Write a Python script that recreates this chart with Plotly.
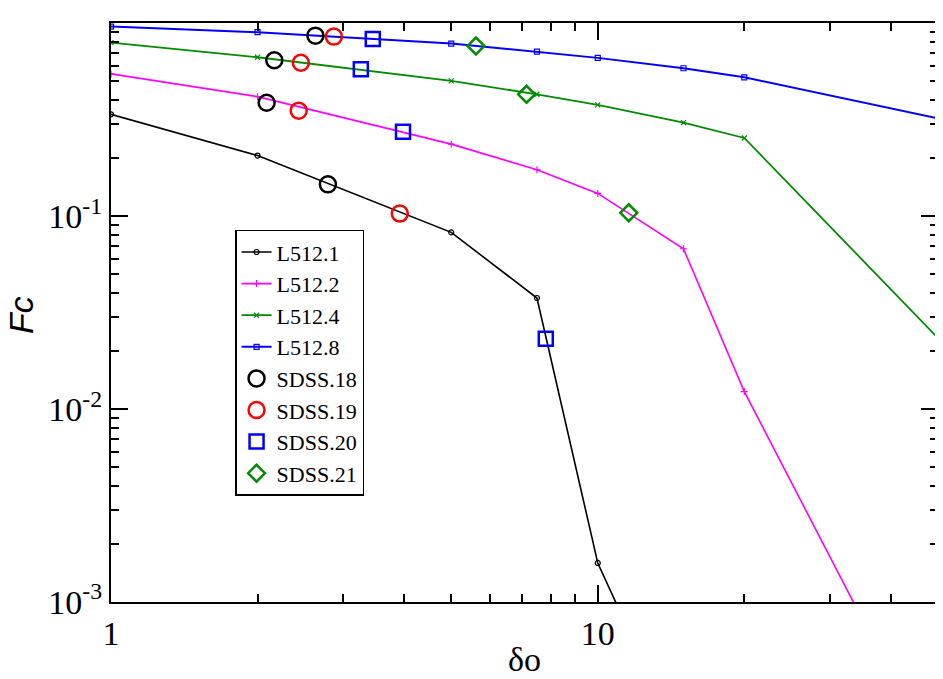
import numpy as np
import plotly.graph_objects as go

# model curves (delta_o grid shared by all four runs)
delta = [1, 2, 5, 7.5, 10, 15, 20, 50]
fc_l512_1 = [0.337, 0.206, 0.0823, 0.0376, 0.00159, 0.00017, None, None]
fc_l512_2 = [0.546, 0.416, 0.236, 0.174, 0.131, 0.0677, 0.0123, 0.000142]
fc_l512_4 = [0.793, 0.666, 0.502, 0.428, 0.377, 0.305, 0.254, 0.0233]
fc_l512_8 = [0.96, 0.898, 0.784, 0.712, 0.661, 0.584, 0.524, 0.321]

# SDSS samples
sdss18_x = [2.63, 2.165, 2.088, 2.79]
sdss18_y = [0.862, 0.643, 0.387, 0.146]
sdss19_x = [2.87, 2.455, 2.43, 3.92]
sdss19_y = [0.852, 0.624, 0.352, 0.103]
sdss20_x = [3.45, 3.26, 3.98, 7.82]
sdss20_y = [0.829, 0.577, 0.274, 0.0231]
sdss21_x = [5.62, 7.14, 11.58]
sdss21_y = [0.762, 0.428, 0.104]

# tick labels
x_tickvals = [1, 10]
x_ticktext = ["1", "10"]
y_tickvals = [1, 0.1, 0.01, 0.001]
y_ticktext = ["10<sup>0</sup>", "10<sup>-1</sup>", "10<sup>-2</sup>", "10<sup>-3</sup>"]

XRANGE = [0, np.log10(50)]
YRANGE = [-3.001, 0.001]

GREEN = "#008B00"
SERIF = "Liberation Serif"

fig = go.Figure()

lines = [
    ("L512.1", fc_l512_1, "black", "circle-open", 1.6),
    ("L512.2", fc_l512_2, "#FF00FF", "cross-thin-open", 1.6),
    ("L512.4", fc_l512_4, GREEN, "x-thin-open", 1.8),
    ("L512.8", fc_l512_8, "#0000FF", "square-open", 2.0),
]
for name, ys, col, sym, lw in lines:
    fig.add_trace(go.Scatter(
        x=delta, y=ys, name=name, mode="lines+markers",
        line=dict(color=col, width=lw),
        marker=dict(symbol=sym, size=5, color=col, line=dict(color=col, width=1.2)),
    ))

# the SDSS points sit on a twin pair of axes (same ranges) that carries the
# ticks of the opposite sides of the frame
points = [
    ("SDSS.18", sdss18_x, sdss18_y, "black", "circle-open", 16),
    ("SDSS.19", sdss19_x, sdss19_y, "#FF0000", "circle-open", 16),
    ("SDSS.20", sdss20_x, sdss20_y, "#0000FF", "square-open", 14),
    ("SDSS.21", sdss21_x, sdss21_y, GREEN, "diamond-open", 13),
]
for name, xs, ys, col, sym, sz in points:
    fig.add_trace(go.Scatter(
        x=xs, y=ys, name=name, mode="markers", xaxis="x2", yaxis="y2",
        marker=dict(symbol=sym, size=sz, color=col, line=dict(color=col, width=2.5)),
    ))

axis_common = dict(
    type="log",
    ticks="inside", ticklen=17, tickwidth=1.6, tickcolor="black",
    minor=dict(ticks="inside", ticklen=8, tickwidth=1.6, tickcolor="black", dtick="D1"),
    showline=True, linecolor="black", linewidth=2, mirror="allticks",
    showgrid=False, zeroline=False, automargin=False,
    tickfont=dict(family=SERIF, size=34, color="black"),
)

fig.update_layout(
    xaxis=dict(range=XRANGE, side="bottom", anchor="y",
               tickvals=x_tickvals, ticktext=x_ticktext, **axis_common),
    yaxis=dict(range=YRANGE, side="left", anchor="x",
               tickvals=y_tickvals, ticktext=y_ticktext, **axis_common),
    xaxis2=dict(range=XRANGE, side="top", anchor="y2", overlaying="x",
                tickvals=x_tickvals, showticklabels=False, **axis_common),
    yaxis2=dict(range=YRANGE, side="right", anchor="x2", overlaying="y",
                tickvals=y_tickvals, showticklabels=False, **axis_common),
)

# axis titles
fig.add_annotation(text="δo", xref="paper", yref="paper", x=0.5, y=-0.1,
                   xanchor="center", yanchor="middle", showarrow=False,
                   font=dict(family=SERIF, size=34, color="black"))
fig.add_annotation(text="<i>Fc</i>", xref="paper", yref="paper", x=-0.108, y=0.495,
                   xanchor="center", yanchor="middle", showarrow=False, textangle=-90,
                   font=dict(family="Liberation Sans", size=34, color="black"))

# the page body keeps an 8px margin, so the figure is sized to fit inside the window
fig.update_layout(
    width=935, height=671,
    margin=dict(l=103, r=5, t=15, b=77),
    paper_bgcolor="white", plot_bgcolor="white",
    legend=dict(
        x=0.15, y=0.643, xanchor="left", yanchor="top",
        bgcolor="white", bordercolor="black", borderwidth=1.5,
        font=dict(family=SERIF, size=22, color="black"),
        tracegroupgap=0, itemwidth=30,
    ),
)

fig.write_html("out.html")
